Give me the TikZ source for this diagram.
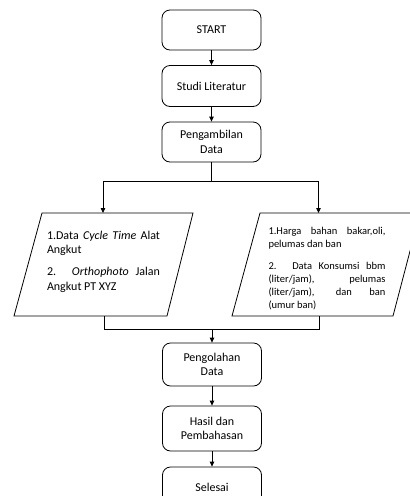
\documentclass[tikz,border=0pt]{standalone}
\usepackage{fontspec}
\setmainfont{Carlito}
\usetikzlibrary{arrows.meta}
\begin{document}
\begin{tikzpicture}[x=1pt,y=-1pt,
  line width=0.8pt,
  font=\fontsize{12}{14.6}\selectfont,
  proc/.style={draw, rounded corners=8pt, minimum width=99pt, align=center, inner sep=2pt},
  arr/.style={-{Triangle[length=5pt,width=4.5pt]}},
  para/.style={inner sep=0pt, align=justify, anchor=north}]
\useasboundingbox (0,0) rectangle (410,496);
\clip (0,0) rectangle (410,496);
\fill[white] (0,0) rectangle (410,496);

\node[proc, minimum height=40pt] (start) at (211.5,30) {START};
\node[proc, minimum height=41pt] (studi) at (211.5,86) {Studi Literatur};
\node[proc, minimum height=40pt] (ambil) at (211.5,142) {Pengambilan\\Data};
\node[proc, minimum height=43pt] (olah) at (212,364.5) {Pengolahan\\Data};
\node[proc, minimum height=45pt] (hasil) at (212,428.5) {Hasil dan\\Pembahasan};
\node[proc, minimum height=41pt] (selesai) at (212,487.5) {Selesai};

% left input
\draw (42,213) -- (193,213) -- (167,316) -- (14,316) -- cycle;
\node[para, text width=113pt] (ltext) at (103.5,230.5)
  {\hyphenpenalty=10000 1.Data \textit{Cycle Time} Alat Angkut\par\vspace{7pt}%
   2. \textit{Orthophoto} Jalan\linebreak Angkut PT XYZ};
% right input
\draw (260,213) -- (420,213) -- (393,316) -- (232,316) -- cycle;
\node[para, text width=117pt, font=\fontsize{10.5}{12.9}\selectfont] (rtext) at (327,227)
  {\hyphenpenalty=10000 1.Harga bahan bakar,oli,\linebreak pelumas dan ban\par\vspace{9pt}%
   2. Data Konsumsi bbm\linebreak (liter/jam), pelumas\linebreak (liter/jam), dan ban\linebreak (umur ban)};

\coordinate (lin) at (103,213);
\coordinate (rin) at (318.5,213);
\coordinate (lout) at (104,316);
\coordinate (rout) at (319,316);
\coordinate (split) at (211.5,181);
\coordinate (join) at (212,329);

\draw[arr] (start) -- (studi);
\draw[arr] (studi) -- (ambil);
\draw (ambil) -- (split);
\draw[arr] (split) -| (lin);
\draw[arr] (split) -| (rin);
\draw (lout) |- (join);
\draw (rout) |- (join);
\draw[arr] (join) -- (olah);
\draw[arr] (olah) -- (hasil);
\draw[arr] (hasil) -- (selesai);
\end{tikzpicture}
\end{document}
